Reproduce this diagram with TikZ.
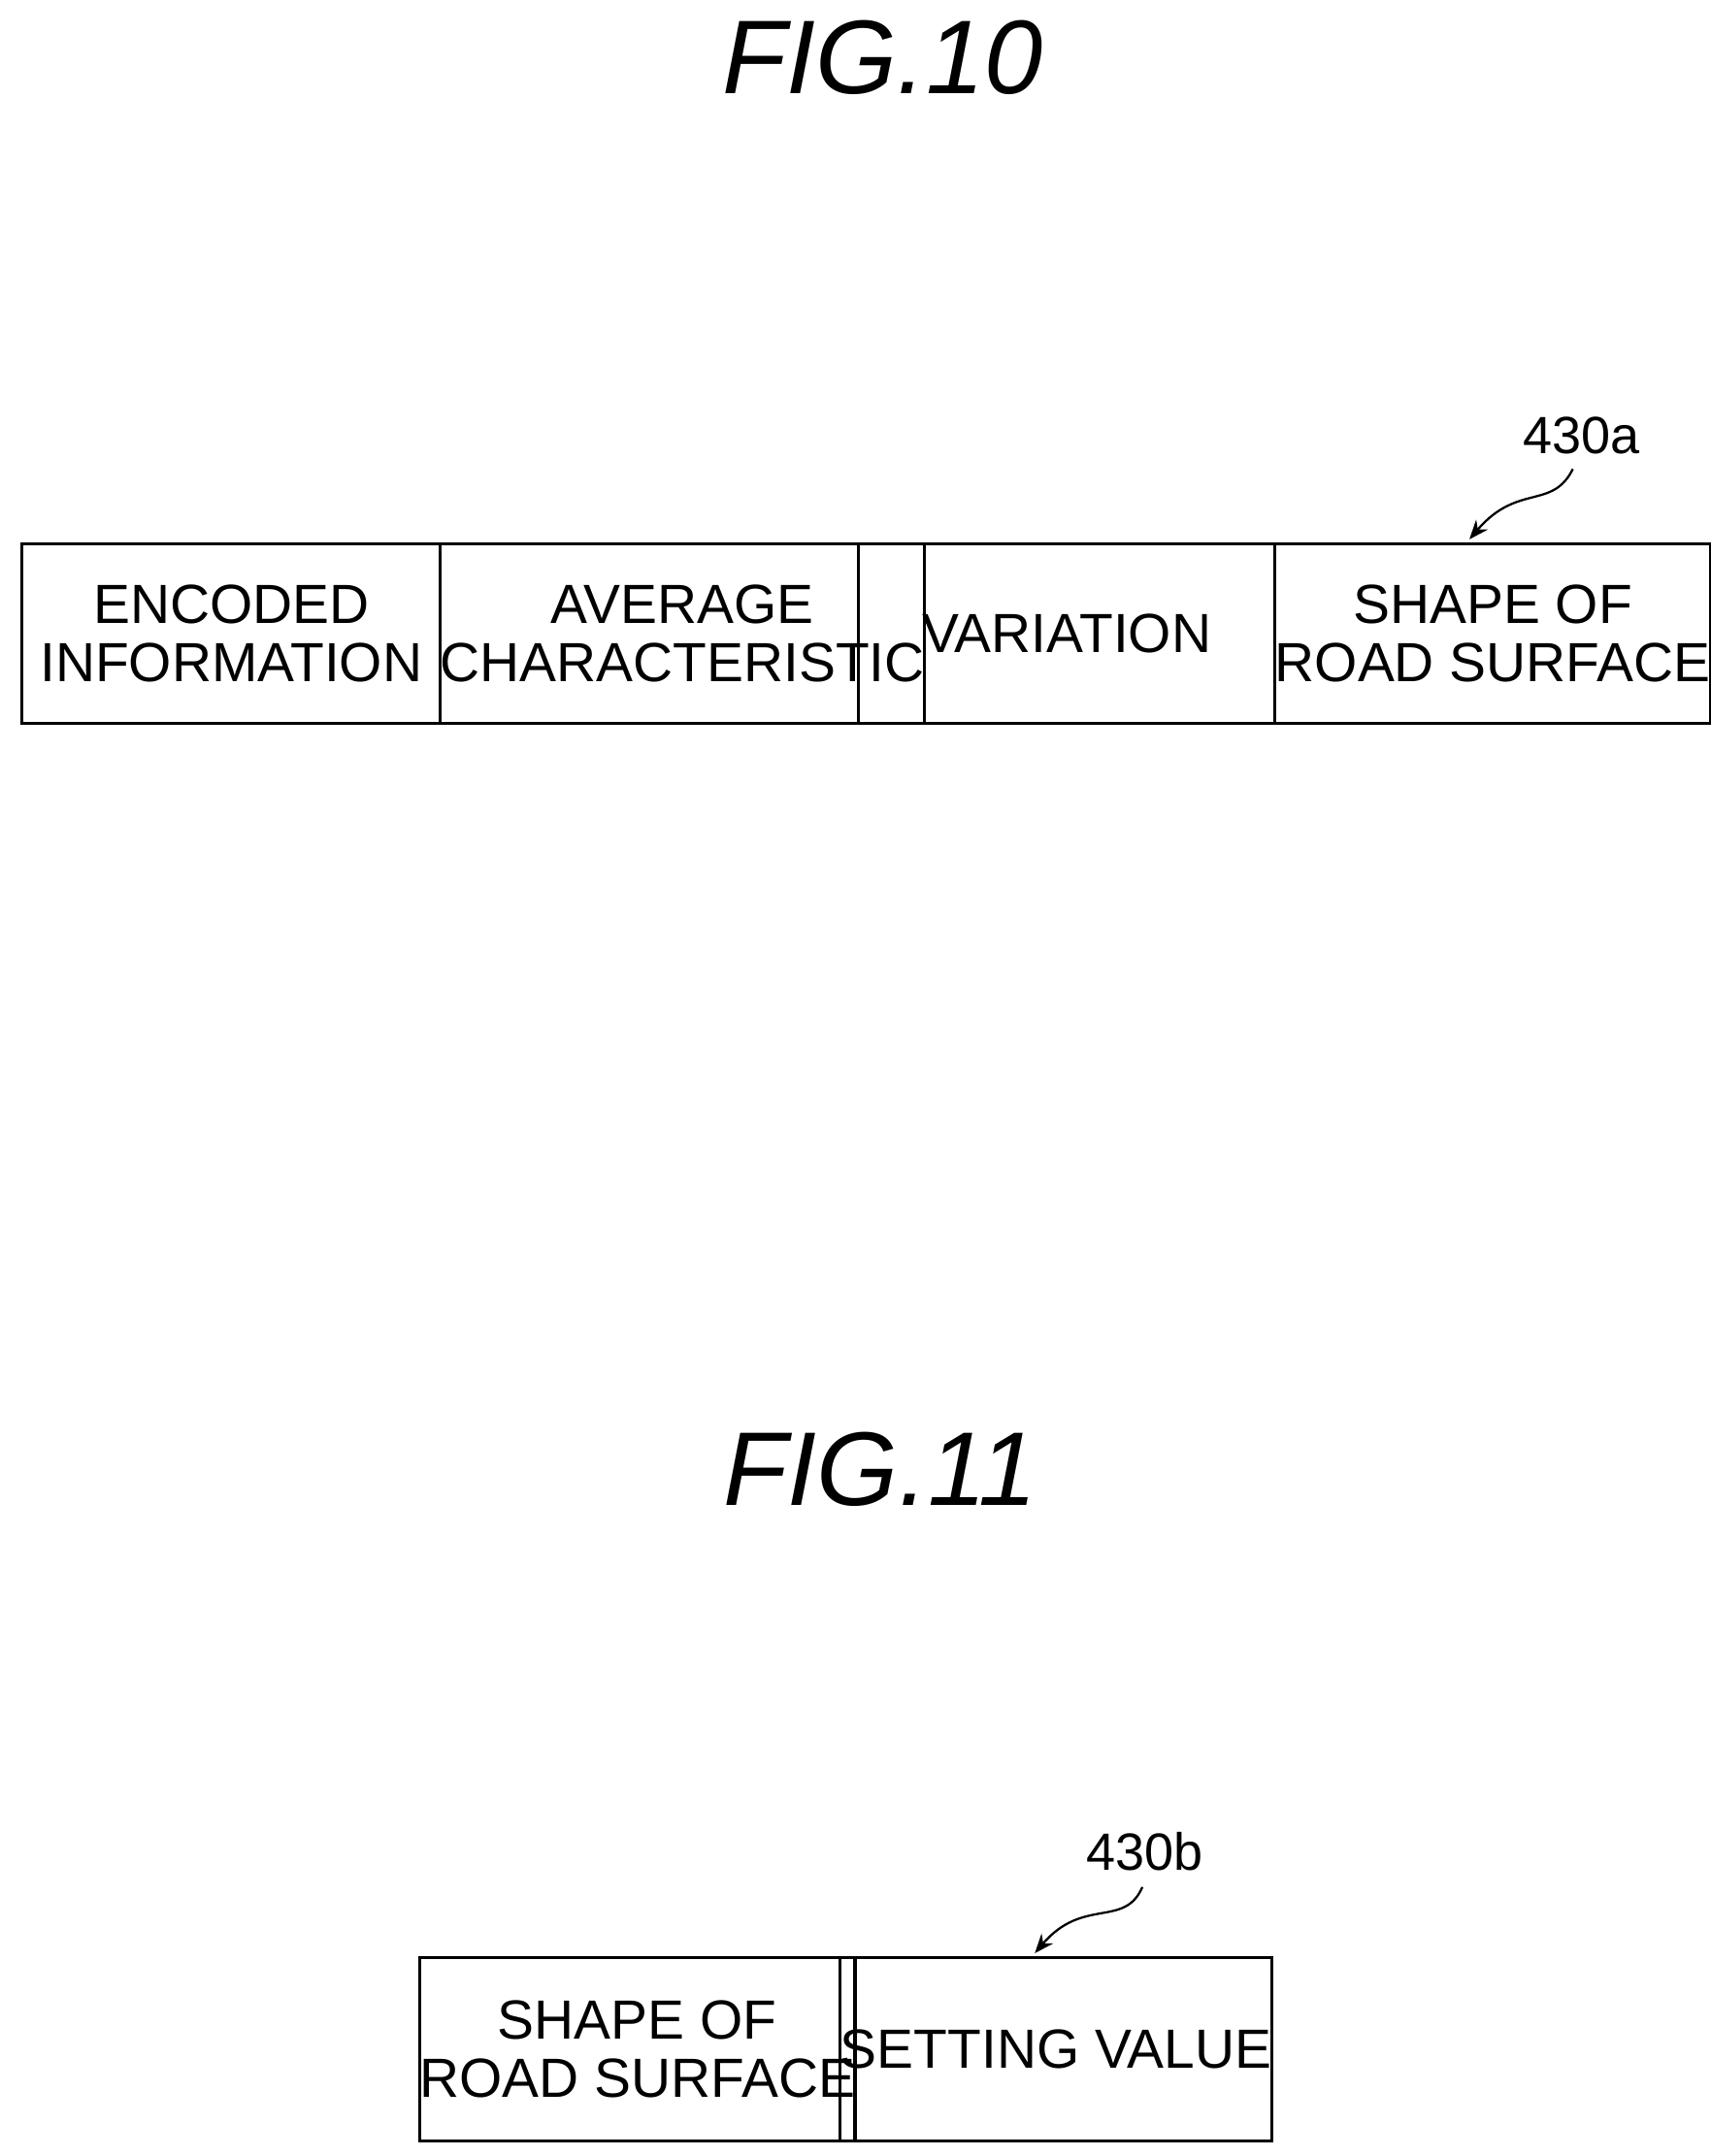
\documentclass[tikz,border=0pt]{standalone}
\usepackage{fontspec}
\setmainfont{Liberation Sans}
\usetikzlibrary{arrows.meta}
\begin{document}
\begin{tikzpicture}[x=1pt,y=-1pt,
  cell/.style={draw,line width=2.2pt,minimum height=130pt,inner sep=0pt,align=center,font=\fontsize{40}{42}\selectfont},
  fig/.style={font=\fontsize{76}{80}\selectfont\itshape},
  ref/.style={font=\fontsize{38}{40}\selectfont},
  lead/.style={line width=1.6pt,-{Stealth[length=14pt,width=11pt]}}]
\useasboundingbox (0,0) rectangle (1240,1563);
\node[fig] (f10) at (640,42) {FIG.10};
\node[cell,minimum width=303pt,anchor=north west] (a1) at (15,393) {ENCODED\\INFORMATION};
\node[cell,minimum width=303pt,anchor=north west] (a2) at (318,393) {AVERAGE\\CHARACTERISTIC};
\node[cell,minimum width=302pt,anchor=north west] (a3) at (621,393) {VARIATION};
\node[cell,minimum width=305pt,anchor=north west] (a4) at (923,393) {SHAPE OF\\ROAD SURFACE};
\node[ref] (l1) at (1146,316) {430a};
\coordinate (t1) at (1065,391);
\draw[lead] (1140,340) .. controls (1125,370) and (1100,350) .. (t1);
\node[fig] (f11) at (638,1065) {FIG.11};
\node[cell,minimum width=305pt,minimum height=133pt,anchor=north west] (b1) at (303,1418) {SHAPE OF\\ROAD SURFACE};
\node[cell,minimum width=303pt,minimum height=133pt,anchor=north west] (b2) at (608,1418) {SETTING VALUE};
\node[ref] (l2) at (830,1342) {430b};
\coordinate (t2) at (750,1416);
\draw[lead] (828,1368) .. controls (815,1398) and (785,1375) .. (t2);
\end{tikzpicture}
\end{document}
